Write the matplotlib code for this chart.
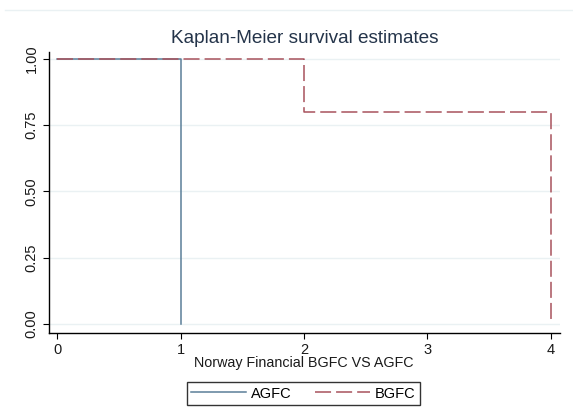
import matplotlib
matplotlib.use("Agg")
import matplotlib.pyplot as plt
from matplotlib.lines import Line2D

# Data (Kaplan-Meier step functions)
agfc_time = [0, 1, 1]
agfc_surv = [1.0, 1.0, 0.0]
bgfc_time = [0, 2, 2, 4, 4]
bgfc_surv = [1.0, 1.0, 0.8, 0.8, 0.0]
x_ticks = [0, 1, 2, 3, 4]
y_ticks = [0.0, 0.25, 0.5, 0.75, 1.0]
y_ticklabels = ["0.00", "0.25", "0.50", "0.75", "1.00"]
title = "Kaplan-Meier survival estimates"
xlabel = "Norway Financial BGFC VS AGFC"
labels = ["AGFC", "BGFC"]

c_agfc = "#5b7f99"
c_bgfc = "#a8525c"
txt = "#1a1a1a"

plt.rcParams['font.family'] = ['Liberation Sans', 'DejaVu Sans']

W, H = 573, 420
fig = plt.figure(figsize=(W / 100, H / 100), dpi=100)
fig.patch.set_facecolor("white")

# axes box in pixels
L, R, T, B = 49, 560, 52, 333
ax = fig.add_axes([L / W, 1 - B / H, (R - L) / W, (B - T) / H])
ax.set_xlim(-0.065, 4.073)
ax.set_ylim(-0.034, 1.026)

for y in y_ticks:
    ax.axhline(y, color="#eaf1f3", lw=1.0, zorder=0)

ax.plot(agfc_time, agfc_surv, color=c_agfc, lw=1.1, zorder=3)
ax.plot(bgfc_time, bgfc_surv, color=c_bgfc, lw=1.1, dashes=(10.5, 3.3), zorder=3)

ax.spines['top'].set_visible(False)
ax.spines['right'].set_visible(False)
for s in ('left', 'bottom'):
    ax.spines[s].set_color("#000000")
    ax.spines[s].set_linewidth(1.0)

ax.set_xticks(x_ticks)
ax.set_xticklabels([str(v) for v in x_ticks], fontsize=10.5, color=txt)
ax.set_yticks(y_ticks)
ax.set_yticklabels(y_ticklabels, fontsize=10.5, color=txt, rotation=90, va="center")
ax.tick_params(axis='both', length=4.5, width=0.8, color="#000000", pad=3)

ax.set_title(title, fontsize=13.7, color="#24344a", pad=6.5)
fig.text(304 / W, 1 - 362.5 / H, xlabel, ha="center", va="center",
         fontsize=10.3, color=txt)

handles = [Line2D([], [], color=c_agfc, lw=1.1),
           Line2D([], [], color=c_bgfc, lw=1.1, dashes=(10.5, 3.3))]
leg = fig.legend(handles, labels, loc="center", ncol=2,
                 bbox_to_anchor=(303.5 / W, 1 - 393.5 / H),
                 fontsize=10.5, frameon=True, fancybox=False,
                 edgecolor="#000000", handlelength=3.77, columnspacing=1.58,
                 borderpad=0.3, handletextpad=0.34, borderaxespad=0)
leg.get_frame().set_linewidth(1.0)

# faint top border line
fig.add_artist(Line2D([5 / W, 1], [1 - 10 / H, 1 - 10 / H], color="#eaf1f3", lw=1.0))

fig.savefig("out.png", dpi=100, facecolor="white")
